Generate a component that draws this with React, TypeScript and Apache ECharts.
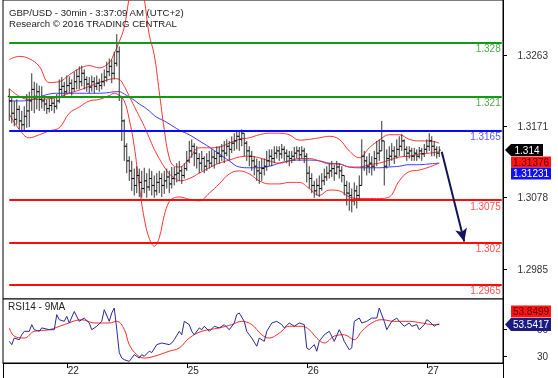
import React, { useEffect, useRef } from "react";
import * as echarts from "echarts";

// ---------- data ----------
const titleLine1 = "GBP/USD - 30min - 3:37:09 AM (UTC+2)";
const titleLine2 = "Research \u00a9 2016 TRADING CENTRAL";
const rsiTitle = "RSI14 - 9MA";

const dayLabels = ["22", "25", "26", "27"];
const dayStartIdx = [23, 71, 119, 167];

const priceTicks = [1.2985, 1.3078, 1.3171, 1.3263];
const rsiTicks = [30, 50];

const levels = [1.328, 1.321, 1.3165, 1.3075, 1.302, 1.2965];
const levelColors = ["#139a13", "#139a13", "#0a0aff", "#ff0a0a", "#ff0a0a", "#ff0a0a"];
const levelLabelColors = ["#4fad4f", "#4fad4f", "#5a5af0", "#ff5252", "#ff5252", "#ff5252"];

const target = 1.3021;

// [open, high, low, close] per 30-min bar
const ohlc: number[][] = [
  [1.3210, 1.3220, 1.3178, 1.3204], [1.3204, 1.3210, 1.3175, 1.3188], [1.3188, 1.3204, 1.3171, 1.3180],
  [1.3180, 1.3206, 1.3173, 1.3193], [1.3193, 1.3198, 1.3167, 1.3178], [1.3178, 1.3191, 1.3165, 1.3173],
  [1.3173, 1.3197, 1.3165, 1.3184], [1.3184, 1.3213, 1.3169, 1.3191], [1.3191, 1.3216, 1.3170, 1.3204],
  [1.3204, 1.3240, 1.3191, 1.3219], [1.3219, 1.3229, 1.3188, 1.3210], [1.3210, 1.3227, 1.3193, 1.3216],
  [1.3216, 1.3224, 1.3191, 1.3206], [1.3206, 1.3223, 1.3194, 1.3204], [1.3204, 1.3209, 1.3191, 1.3200],
  [1.3200, 1.3206, 1.3187, 1.3194], [1.3194, 1.3207, 1.3189, 1.3198], [1.3198, 1.3210, 1.3191, 1.3201],
  [1.3201, 1.3207, 1.3188, 1.3197], [1.3197, 1.3213, 1.3193, 1.3204], [1.3204, 1.3232, 1.3201, 1.3219],
  [1.3219, 1.3235, 1.3210, 1.3223], [1.3223, 1.3229, 1.3209, 1.3216], [1.3216, 1.3237, 1.3213, 1.3224],
  [1.3224, 1.3236, 1.3214, 1.3227], [1.3227, 1.3232, 1.3211, 1.3220], [1.3220, 1.3242, 1.3216, 1.3229],
  [1.3229, 1.3245, 1.3219, 1.3236], [1.3236, 1.3249, 1.3219, 1.3229], [1.3229, 1.3250, 1.3223, 1.3240],
  [1.3240, 1.3245, 1.3219, 1.3232], [1.3232, 1.3236, 1.3216, 1.3226], [1.3226, 1.3235, 1.3214, 1.3222],
  [1.3222, 1.3237, 1.3216, 1.3229], [1.3229, 1.3235, 1.3214, 1.3223], [1.3223, 1.3237, 1.3218, 1.3227],
  [1.3227, 1.3233, 1.3216, 1.3224], [1.3224, 1.3240, 1.3219, 1.3229], [1.3229, 1.3245, 1.3223, 1.3235],
  [1.3235, 1.3255, 1.3229, 1.3242], [1.3242, 1.3259, 1.3236, 1.3249], [1.3249, 1.3258, 1.3227, 1.3240],
  [1.3240, 1.3268, 1.3232, 1.3253], [1.3253, 1.3291, 1.3249, 1.3268], [1.3268, 1.3275, 1.3204, 1.3210],
  [1.3210, 1.3210, 1.3152, 1.3178], [1.3178, 1.3180, 1.3126, 1.3145], [1.3145, 1.3149, 1.3110, 1.3126],
  [1.3126, 1.3132, 1.3100, 1.3113], [1.3113, 1.3126, 1.3087, 1.3103], [1.3103, 1.3116, 1.3081, 1.3094],
  [1.3094, 1.3119, 1.3084, 1.3107], [1.3107, 1.3116, 1.3079, 1.3098], [1.3098, 1.3113, 1.3078, 1.3090],
  [1.3090, 1.3117, 1.3084, 1.3100], [1.3100, 1.3110, 1.3078, 1.3092], [1.3092, 1.3116, 1.3087, 1.3103],
  [1.3103, 1.3113, 1.3081, 1.3094], [1.3094, 1.3107, 1.3078, 1.3087], [1.3087, 1.3110, 1.3081, 1.3098],
  [1.3098, 1.3113, 1.3084, 1.3103], [1.3103, 1.3110, 1.3079, 1.3094], [1.3094, 1.3113, 1.3083, 1.3100],
  [1.3100, 1.3116, 1.3090, 1.3105], [1.3105, 1.3113, 1.3084, 1.3096], [1.3096, 1.3118, 1.3090, 1.3103],
  [1.3103, 1.3118, 1.3094, 1.3108], [1.3108, 1.3123, 1.3098, 1.3110], [1.3110, 1.3126, 1.3100, 1.3113],
  [1.3113, 1.3119, 1.3096, 1.3107], [1.3107, 1.3123, 1.3103, 1.3116], [1.3116, 1.3139, 1.3113, 1.3126],
  [1.3126, 1.3152, 1.3123, 1.3139], [1.3139, 1.3154, 1.3130, 1.3145], [1.3145, 1.3149, 1.3119, 1.3136],
  [1.3136, 1.3145, 1.3116, 1.3129], [1.3129, 1.3136, 1.3110, 1.3123], [1.3123, 1.3139, 1.3113, 1.3129],
  [1.3129, 1.3132, 1.3110, 1.3119], [1.3119, 1.3136, 1.3113, 1.3126], [1.3126, 1.3139, 1.3116, 1.3123],
  [1.3123, 1.3141, 1.3118, 1.3131], [1.3131, 1.3139, 1.3116, 1.3129], [1.3129, 1.3145, 1.3122, 1.3136],
  [1.3136, 1.3145, 1.3122, 1.3132], [1.3132, 1.3148, 1.3126, 1.3139], [1.3139, 1.3152, 1.3123, 1.3136],
  [1.3136, 1.3154, 1.3132, 1.3145], [1.3145, 1.3152, 1.3126, 1.3141], [1.3141, 1.3158, 1.3136, 1.3149],
  [1.3149, 1.3162, 1.3139, 1.3152], [1.3152, 1.3165, 1.3141, 1.3158], [1.3158, 1.3165, 1.3139, 1.3154],
  [1.3154, 1.3167, 1.3145, 1.3162], [1.3162, 1.3162, 1.3132, 1.3149], [1.3149, 1.3152, 1.3126, 1.3139],
  [1.3139, 1.3145, 1.3119, 1.3132], [1.3132, 1.3139, 1.3113, 1.3126], [1.3126, 1.3132, 1.3107, 1.3119],
  [1.3119, 1.3129, 1.3100, 1.3113], [1.3113, 1.3126, 1.3096, 1.3110], [1.3110, 1.3129, 1.3100, 1.3116],
  [1.3116, 1.3129, 1.3107, 1.3119], [1.3119, 1.3139, 1.3113, 1.3126], [1.3126, 1.3141, 1.3119, 1.3132],
  [1.3132, 1.3141, 1.3119, 1.3129], [1.3129, 1.3145, 1.3123, 1.3136], [1.3136, 1.3145, 1.3129, 1.3139],
  [1.3139, 1.3145, 1.3126, 1.3135], [1.3135, 1.3148, 1.3129, 1.3141], [1.3141, 1.3145, 1.3126, 1.3136],
  [1.3136, 1.3141, 1.3123, 1.3132], [1.3132, 1.3139, 1.3119, 1.3129], [1.3129, 1.3139, 1.3123, 1.3132],
  [1.3132, 1.3144, 1.3126, 1.3136], [1.3136, 1.3145, 1.3129, 1.3139], [1.3139, 1.3144, 1.3126, 1.3134],
  [1.3134, 1.3145, 1.3129, 1.3139], [1.3139, 1.3143, 1.3123, 1.3132], [1.3132, 1.3136, 1.3098, 1.3110],
  [1.3110, 1.3119, 1.3090, 1.3103], [1.3103, 1.3110, 1.3084, 1.3094], [1.3094, 1.3100, 1.3078, 1.3087],
  [1.3087, 1.3103, 1.3081, 1.3094], [1.3094, 1.3107, 1.3079, 1.3090], [1.3090, 1.3110, 1.3087, 1.3100],
  [1.3100, 1.3116, 1.3094, 1.3105], [1.3105, 1.3119, 1.3100, 1.3110], [1.3110, 1.3123, 1.3103, 1.3113],
  [1.3113, 1.3126, 1.3105, 1.3116], [1.3116, 1.3121, 1.3100, 1.3110], [1.3110, 1.3126, 1.3108, 1.3118],
  [1.3118, 1.3123, 1.3103, 1.3113], [1.3113, 1.3119, 1.3098, 1.3107], [1.3107, 1.3107, 1.3081, 1.3094],
  [1.3094, 1.3100, 1.3068, 1.3084], [1.3084, 1.3098, 1.3061, 1.3081], [1.3081, 1.3090, 1.3059, 1.3074],
  [1.3074, 1.3098, 1.3068, 1.3087], [1.3087, 1.3094, 1.3064, 1.3081], [1.3081, 1.3107, 1.3074, 1.3094],
  [1.3094, 1.3154, 1.3094, 1.3132], [1.3132, 1.3139, 1.3113, 1.3126], [1.3126, 1.3132, 1.3107, 1.3119],
  [1.3119, 1.3136, 1.3110, 1.3123], [1.3123, 1.3132, 1.3107, 1.3119], [1.3119, 1.3139, 1.3113, 1.3129],
  [1.3129, 1.3152, 1.3119, 1.3136], [1.3136, 1.3154, 1.3126, 1.3139], [1.3139, 1.3178, 1.3139, 1.3152],
  [1.3152, 1.3152, 1.3094, 1.3119], [1.3119, 1.3141, 1.3116, 1.3129], [1.3129, 1.3145, 1.3119, 1.3132],
  [1.3132, 1.3149, 1.3126, 1.3139], [1.3139, 1.3145, 1.3122, 1.3132], [1.3132, 1.3154, 1.3129, 1.3141],
  [1.3141, 1.3158, 1.3132, 1.3145], [1.3145, 1.3161, 1.3139, 1.3152], [1.3152, 1.3154, 1.3132, 1.3141],
  [1.3141, 1.3145, 1.3126, 1.3136], [1.3136, 1.3145, 1.3129, 1.3139], [1.3139, 1.3143, 1.3126, 1.3132],
  [1.3132, 1.3143, 1.3126, 1.3136], [1.3136, 1.3141, 1.3126, 1.3132], [1.3132, 1.3144, 1.3129, 1.3139],
  [1.3139, 1.3143, 1.3126, 1.3135], [1.3135, 1.3148, 1.3131, 1.3141], [1.3141, 1.3154, 1.3136, 1.3145],
  [1.3145, 1.3162, 1.3139, 1.3152], [1.3152, 1.3158, 1.3132, 1.3145], [1.3145, 1.3152, 1.3132, 1.3141],
  [1.3141, 1.3145, 1.3129, 1.3136], [1.3136, 1.3145, 1.3131, 1.3140],
];

// Bollinger bands (20) and blue moving average, sampled at bar indices
const bandIdx = [0, 4, 8, 12, 16, 20, 24, 28, 32, 36, 40, 42, 44, 46, 48, 50, 52, 54, 56, 58, 60, 62, 64, 66, 68,
  72, 76, 80, 84, 88, 92, 96, 100, 104, 108, 112, 116, 120, 124, 128, 132, 136, 140, 144, 148, 152, 156, 160, 164, 168, 172];
const bbUpper = [1.3258, 1.3262, 1.3259, 1.3249, 1.3228, 1.3229, 1.3238, 1.3246, 1.3250, 1.3247, 1.3254, 1.3266, 1.3281,
  1.3300, 1.3339, 1.3372, 1.3372, 1.3337, 1.3290, 1.3264, 1.3216, 1.3167, 1.3130, 1.3119, 1.3118,
  1.3129, 1.3143, 1.3143, 1.3144, 1.3149, 1.3154, 1.3156, 1.3160, 1.3162, 1.3162, 1.3160, 1.3153, 1.3154, 1.3156, 1.3158,
  1.3154, 1.3139, 1.3130, 1.3143, 1.3153, 1.3160, 1.3160, 1.3154, 1.3152, 1.3152, 1.3149];
const bbMid = [1.3220, 1.3210, 1.3206, 1.3206, 1.3207, 1.3209, 1.3214, 1.3218, 1.3223, 1.3228, 1.3232, 1.3233, 1.3232,
  1.3223, 1.3210, 1.3197, 1.3184, 1.3171, 1.3156, 1.3141, 1.3129, 1.3118, 1.3109, 1.3104, 1.3100,
  1.3103, 1.3110, 1.3117, 1.3123, 1.3127, 1.3131, 1.3132, 1.3130, 1.3126, 1.3123, 1.3126, 1.3129, 1.3129, 1.3126, 1.3122,
  1.3122, 1.3118, 1.3118, 1.3121, 1.3123, 1.3127, 1.3131, 1.3132, 1.3135, 1.3136, 1.3138];
const bbLower = [1.3187, 1.3167, 1.3156, 1.3160, 1.3165, 1.3169, 1.3188, 1.3196, 1.3204, 1.3206, 1.3211, 1.3214, 1.3211,
  1.3204, 1.3180, 1.3145, 1.3094, 1.3051, 1.3025, 1.3015, 1.3026, 1.3055, 1.3073, 1.3078, 1.3079,
  1.3076, 1.3074, 1.3084, 1.3096, 1.3109, 1.3113, 1.3109, 1.3100, 1.3096, 1.3096, 1.3098, 1.3098, 1.3090, 1.3081, 1.3088,
  1.3087, 1.3079, 1.3077, 1.3077, 1.3077, 1.3079, 1.3100, 1.3112, 1.3114, 1.3118, 1.3123];
const maBlue = [1.3204, 1.3204, 1.3205, 1.3209, 1.3213, 1.3214, 1.3214, 1.3214, 1.3214, 1.3214, 1.3215, 1.3216, 1.3216,
  1.3213, 1.3209, 1.3205, 1.3200, 1.3196, 1.3191, 1.3185, 1.3181, 1.3178, 1.3174, 1.3170, 1.3166,
  1.3160, 1.3152, 1.3144, 1.3135, 1.3126, 1.3118, 1.3117, 1.3117, 1.3119, 1.3123, 1.3126, 1.3127, 1.3127, 1.3126, 1.3123,
  1.3122, 1.3118, 1.3117, 1.3117, 1.3117, 1.3118, 1.3119, 1.3121, 1.3121, 1.3122, 1.3123];

// RSI14 and its 9-period MA, sampled at bar indices
const rsiIdx = [0, 1, 2, 4, 5, 6, 8, 9, 10, 12, 13, 16, 18, 19, 20, 22, 23, 24, 26, 28, 30, 32, 33, 35, 37, 38, 40, 41,
  42, 43, 44, 45, 46, 48, 49, 50, 52, 53, 54, 56, 57, 59, 61, 64, 65, 66, 68, 69, 70, 72, 73, 74, 76, 77, 78, 80, 82, 84,
  86, 88, 90, 91, 92, 94, 95, 97, 99, 100, 102, 103, 105, 107, 109, 110, 112, 114, 116, 118, 119, 120, 122, 123, 124, 126,
  128, 130, 132, 133, 134, 136, 137, 138, 140, 141, 143, 145, 147, 148, 150, 151, 153, 155, 156, 158, 160, 161, 163, 164,
  166, 167, 168, 170, 171, 172];
const rsiVals = [41.2, 38.8, 43.6, 42.4, 46, 48.5, 48.5, 53.4, 49.7, 48.5, 51, 49.7, 49.7, 60.7, 57, 55.8, 59.5, 54.6, 63,
  55.8, 58.2, 54.6, 49.7, 52.2, 55.8, 64.3, 55.8, 61.9, 65.5, 50, 33, 29, 27.8, 26.6, 29, 31.5, 29, 31.5, 30.3, 34, 33,
  38.8, 40, 38.8, 40, 42.4, 48.5, 46, 55.8, 53.4, 48.5, 46, 51, 49.7, 52.2, 48.5, 52.2, 51, 53.4, 49.7, 54.6, 60.7, 61.9,
  55.8, 48.5, 43.6, 37.6, 43.6, 41.2, 48.5, 54.6, 55.8, 53.4, 51, 54.6, 52.2, 54.6, 53.4, 36.4, 35.1, 38.8, 34, 41.2, 46,
  48.5, 41.2, 49.7, 46, 41.2, 35.1, 36.4, 55.8, 58.2, 54.6, 55.8, 58.2, 58.2, 65.5, 55.8, 49.7, 55.8, 58.2, 55.8, 52.2,
  54.6, 52.2, 53.4, 49.7, 53.4, 57, 55.8, 52.2, 53.4, 53.5417];
const rsiMaIdx = [0, 2, 6, 10, 16, 22, 29, 34, 40, 43, 46, 48, 51, 54, 58, 64, 68, 72, 77, 84, 89, 93, 97, 101, 104, 108,
  112, 117, 120, 123, 126, 130, 134, 138, 141, 145, 149, 154, 160, 165, 170, 172];
const rsiMaVals = [51, 45, 43.6, 48.5, 49.7, 53.4, 57, 54.6, 54.6, 55.8, 50, 38.8, 31.5, 29, 30.3, 34, 36.4, 43.6, 48.5,
  51, 53.4, 55.8, 53.4, 46, 43.6, 47.2, 52.2, 52.2, 49.7, 43.6, 40, 45, 46, 42.4, 48.5, 54.6, 57, 55.8, 55.8, 54.6, 53.4,
  53.8499];

const lastClose = 1.314;
const tagMid = 1.31376;
const tagMa = 1.31231;
const tagRsi = 53.5417;
const tagRsiMa = 53.8499;

// ---------- layout ----------
const W = 558;
const H = 378;
const GRID_LEFT = 3;
const GRID_RIGHT = 55;
const N_CAT = 200;
const OFFSET = 2;
const FONT = "'Liberation Sans', Arial, sans-serif";
const FS = 10;
const FS_TITLE = 9.6;

export default function App() {
  const ref = useRef<HTMLDivElement>(null);

  useEffect(() => {
    if (!ref.current) return;
    const chart = echarts.init(ref.current, undefined, { renderer: "svg" });

    const cats = Array.from({ length: N_CAT }, (_, k) => String(k));
    const labelAt: Record<number, string> = {};
    dayStartIdx.forEach((d, i) => (labelAt[d + OFFSET] = dayLabels[i]));
    const isDay = (idx: number) => labelAt[idx] !== undefined;

    const pairs = (idx: number[], vals: number[]) => idx.map((k, i) => [k + OFFSET, vals[i]]);
    const lastCat = ohlc.length - 1 + OFFSET;

    const option: any = {
      animation: false,
      grid: [
        { left: GRID_LEFT, right: GRID_RIGHT, top: -2, height: 301, show: true, borderColor: "#000", borderWidth: 1, backgroundColor: "#fff" },
        { left: GRID_LEFT, right: GRID_RIGHT, top: 299, height: 64, show: true, borderColor: "#000", borderWidth: 1, backgroundColor: "#fff" },
      ],
      xAxis: [
        { type: "category", gridIndex: 0, data: cats, boundaryGap: true, show: false },
        {
          type: "category", gridIndex: 1, data: cats, boundaryGap: true,
          axisLine: { show: true, lineStyle: { color: "#000" } },
          axisTick: { show: true, alignWithLabel: true, length: 5, interval: (i: number) => isDay(i), lineStyle: { color: "#000" } },
          axisLabel: {
            interval: (i: number) => isDay(i),
            formatter: (_v: string, i: number) => labelAt[i] ?? "",
            align: "left", margin: 2, fontSize: FS, color: "#222", fontFamily: FONT, padding: [0, 0, 0, 1],
          },
          splitLine: { show: false },
        },
      ],
      yAxis: [
        {
          type: "value", gridIndex: 0, position: "right", min: 1.29462, max: 1.333539,
          axisLine: { show: true, lineStyle: { color: "#000" } },
          axisTick: { show: true, length: 4, customValues: priceTicks, lineStyle: { color: "#000" } },
          axisLabel: { customValues: priceTicks, formatter: (v: number) => v.toFixed(4), margin: 45, align: "right", fontSize: FS, color: "#333", fontFamily: FONT },
          splitLine: { show: false },
        },
        {
          type: "value", gridIndex: 1, position: "right", min: 25.4, max: 72.1,
          axisLine: { show: true, lineStyle: { color: "#000" } },
          axisTick: { show: true, length: 4, customValues: rsiTicks, lineStyle: { color: "#000" } },
          axisLabel: { customValues: rsiTicks, formatter: (v: number) => String(v), margin: 45, align: "right", fontSize: FS, color: "#333", fontFamily: FONT },
          splitLine: { show: false },
        },
      ],
      series: [
        {
          name: "ma", type: "line", xAxisIndex: 0, yAxisIndex: 0, z: 2, showSymbol: false, smooth: 0.4,
          data: pairs(bandIdx, maBlue), lineStyle: { color: "#3b3bff", width: 1 },
          markLine: {
            silent: true, symbol: ["none", "none"],
            data: levels.map((v, i) => [
              {
                coord: [OFFSET, v],
                lineStyle: { color: levelColors[i], width: 2, type: "solid" },
                label: { show: true, position: "insideEndBottom", formatter: String(v), color: levelLabelColors[i], fontSize: FS, fontFamily: FONT, distance: [1, 1] },
              },
              { coord: [N_CAT - 1, v], lineStyle: { color: levelColors[i], width: 2, type: "solid" } },
            ]),
          },
        },
        { name: "bbUpper", type: "line", xAxisIndex: 0, yAxisIndex: 0, z: 2, showSymbol: false, smooth: 0.4, data: pairs(bandIdx, bbUpper), lineStyle: { color: "#ff3434", width: 1 } },
        {
          name: "bbMid", type: "line", xAxisIndex: 0, yAxisIndex: 0, z: 2, showSymbol: false, smooth: 0.4, data: pairs(bandIdx, bbMid), lineStyle: { color: "#ff3434", width: 1 },
          markLine: {
            silent: true, symbol: ["none", "arrow"], symbolSize: [9, 13],
            data: [[
              { coord: [lastCat + 1, lastClose - 0.0002], lineStyle: { color: "#14145e", width: 2, type: "solid" }, label: { show: false } },
              { coord: [lastCat + 10, target], lineStyle: { color: "#14145e", width: 2, type: "solid" } },
            ]],
          },
        },
        { name: "bbLower", type: "line", xAxisIndex: 0, yAxisIndex: 0, z: 2, showSymbol: false, smooth: 0.4, data: pairs(bandIdx, bbLower), lineStyle: { color: "#ff3434", width: 1 } },
        {
          name: "ohlc", type: "custom", xAxisIndex: 0, yAxisIndex: 0, z: 3,
          data: ohlc.map((d, i) => [i + OFFSET, d[0], d[1], d[2], d[3]]),
          encode: { x: 0, y: [1, 2, 3, 4] },
          renderItem: (_p: any, api: any) => {
            const xi = api.value(0);
            const o = api.coord([xi, api.value(1)]);
            const h = api.coord([xi, api.value(2)]);
            const l = api.coord([xi, api.value(3)]);
            const c = api.coord([xi, api.value(4)]);
            const x = o[0];
            return {
              type: "group",
              children: [
                { type: "line", shape: { x1: x, y1: h[1], x2: x, y2: l[1] }, style: { stroke: "#333", lineWidth: 1 } },
                { type: "line", shape: { x1: x - 1.5, y1: o[1], x2: x, y2: o[1] }, style: { stroke: "#000", lineWidth: 1 } },
                { type: "line", shape: { x1: x, y1: c[1], x2: x + 1.5, y2: c[1] }, style: { stroke: "#000", lineWidth: 1 } },
              ],
            };
          },
        },
        { name: "rsiMa", type: "line", xAxisIndex: 1, yAxisIndex: 1, showSymbol: false, smooth: 0.4, data: pairs(rsiMaIdx, rsiMaVals), lineStyle: { color: "#ff2a2a", width: 1 } },
        { name: "rsi", type: "line", xAxisIndex: 1, yAxisIndex: 1, showSymbol: false, data: pairs(rsiIdx, rsiVals), lineStyle: { color: "#2a2a90", width: 1 } },
      ],
    };
    chart.setOption(option);

    const ax = chart.getWidth() - GRID_RIGHT;
    const yP = chart.convertToPixel({ yAxisIndex: 0 }, lastClose) as number;
    const yR = chart.convertToPixel({ yAxisIndex: 1 }, tagRsi) as number;
    const txt = (x: number, y: number, s: string, fill: string, align = "center") => ({
      type: "text", z: 20, style: { x, y, text: s, fill, font: `${FS}px ${FONT}`, textAlign: align, textVerticalAlign: "middle" },
    });
    chart.setOption({
      graphic: [
        { type: "text", left: 9, top: 7, z: 20, style: { text: titleLine1, fill: "#222", font: `${FS_TITLE}px ${FONT}` } },
        { type: "text", left: 9, top: 18, z: 20, style: { text: titleLine2, fill: "#222", font: `${FS_TITLE}px ${FONT}` } },
        { type: "text", left: 8, top: 301, z: 20, style: { text: rsiTitle, fill: "#222", font: `${FS}px ${FONT}` } },
        { type: "line", z: 20, shape: { x1: GRID_LEFT + 0.5, y1: 363, x2: GRID_LEFT + 0.5, y2: H }, style: { stroke: "#000", lineWidth: 1 } },
        { type: "line", z: 20, shape: { x1: ax + 0.5, y1: 363, x2: ax + 0.5, y2: H }, style: { stroke: "#000", lineWidth: 1 } },
        // main tags
        { type: "polygon", z: 19, shape: { points: [[ax + 2, yP], [ax + 8, yP - 6], [ax + 40, yP - 6], [ax + 40, yP + 6], [ax + 8, yP + 6]] }, style: { fill: "#000" } },
        txt(ax + 24, yP, String(lastClose), "#fff"),
        { type: "rect", z: 19, shape: { x: ax + 8, y: yP + 6.5, width: 40, height: 11 }, style: { fill: "#ff1414" } },
        txt(ax + 28, yP + 12, String(tagMid), "#5a0000"),
        { type: "rect", z: 19, shape: { x: ax + 8, y: yP + 17.5, width: 40, height: 12 }, style: { fill: "#1010f0" } },
        txt(ax + 28, yP + 23.5, String(tagMa), "#fff"),
        // rsi tags
        { type: "rect", z: 19, shape: { x: ax + 8, y: yR - 19, width: 40, height: 12 }, style: { fill: "#ff1414" } },
        txt(ax + 28, yR - 13, String(tagRsiMa), "#5a0000"),
        { type: "polygon", z: 19, shape: { points: [[ax + 2, yR], [ax + 8, yR - 6.5], [ax + 48, yR - 6.5], [ax + 48, yR + 6.5], [ax + 8, yR + 6.5]] }, style: { fill: "#1c1c80" } },
        txt(ax + 28, yR, String(tagRsi), "#fff"),
      ],
    });

    return () => chart.dispose();
  }, []);

  return <div ref={ref} style={{ position: "fixed", left: 0, top: 0, width: W, height: H }} />;
}
